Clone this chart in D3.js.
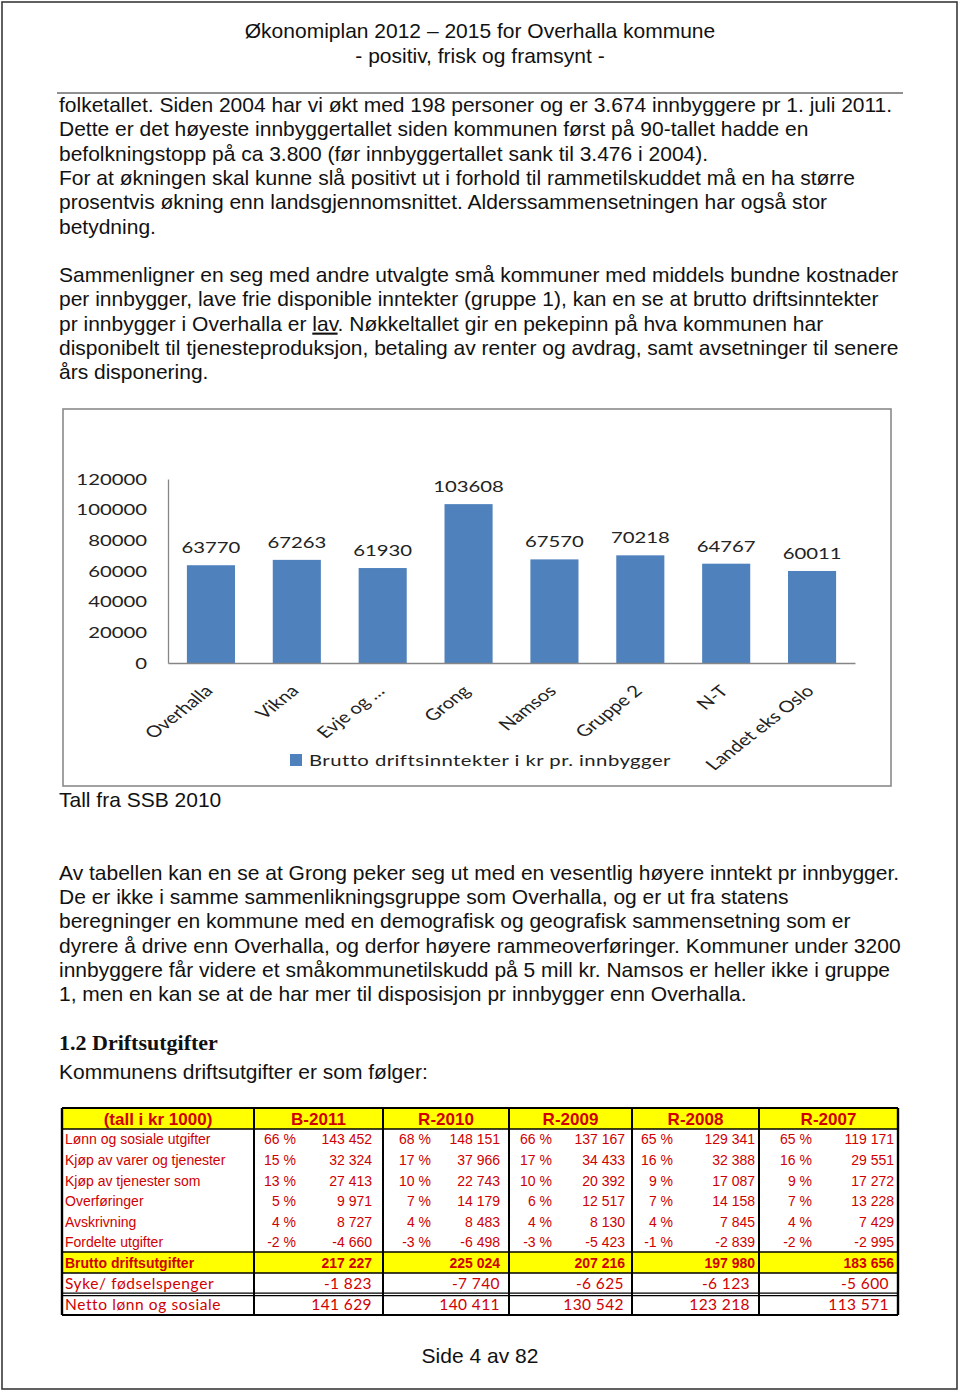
<!DOCTYPE html>
<html><head><meta charset="utf-8">
<script src="https://cdn.jsdelivr.net/npm/d3@7"></script>
<style>
html,body{margin:0;padding:0;background:#fff;}
svg{display:block;}
</style></head><body>
<svg id="page" width="960" height="1393"></svg>
<script>
// ---------- chart data ----------
const categories = ["Overhalla","Vikna","Evje og …","Grong","Namsos","Gruppe 2","N-T","Landet eks Oslo"];
const incomePerCapita = [63770,67263,61930,103608,67570,70218,64767,60011];
const yTicks = [0,20000,40000,60000,80000,100000,120000];
const seriesName = "Brutto driftsinntekter i kr pr. innbygger";

// ---------- table data ----------
const tableHeaders = ["(tall i kr 1000)","B-2011","R-2010","R-2009","R-2008","R-2007"];
const rowLabels = ["Lønn og sosiale utgifter","Kjøp av varer og tjenester","Kjøp av tjenester som","Overføringer","Avskrivning","Fordelte utgifter"];
const pctB2011 = [66,15,13,5,4,-2];
const valB2011 = [143452,32324,27413,9971,8727,-4660];
const pctR2010 = [68,17,10,7,4,-3];
const valR2010 = [148151,37966,22743,14179,8483,-6498];
const pctR2009 = [66,17,10,6,4,-3];
const valR2009 = [137167,34433,20392,12517,8130,-5423];
const pctR2008 = [65,16,9,7,4,-1];
const valR2008 = [129341,32388,17087,14158,7845,-2839];
const pctR2007 = [65,16,9,7,4,-2];
const valR2007 = [119171,29551,17272,13228,7429,-2995];
const bruttoLabel = "Brutto driftsutgifter";
const bruttoTotals = [217227,225024,207216,197980,183656];
const sykeLabel = "Syke/ fødselspenger";
const sykeValues = [-1823,-7740,-6625,-6123,-5600];
const nettoLabel = "Netto lønn og sosiale";
const nettoValues = [141629,140411,130542,123218,113571];

// ---------- page text ----------
const headerLines = ["Økonomiplan 2012 – 2015 for Overhalla kommune","- positiv, frisk og framsynt -"];
const para1 = [
 "folketallet. Siden 2004 har vi økt med 198 personer og er 3.674 innbyggere pr 1. juli 2011.",
 "Dette er det høyeste innbyggertallet siden kommunen først på 90-tallet hadde en",
 "befolkningstopp på ca 3.800 (før innbyggertallet sank til 3.476 i 2004).",
 "For at økningen skal kunne slå positivt ut i forhold til rammetilskuddet må en ha større",
 "prosentvis økning enn landsgjennomsnittet. Alderssammensetningen har også stor",
 "betydning."];
const para2 = [
 "Sammenligner en seg med andre utvalgte små kommuner med middels bundne kostnader",
 "per innbygger, lave frie disponible inntekter (gruppe 1), kan en se at brutto driftsinntekter",
 "pr innbygger i Overhalla er |lav|. Nøkkeltallet gir en pekepinn på hva kommunen har",
 "disponibelt til tjenesteproduksjon, betaling av renter og avdrag, samt avsetninger til senere",
 "års disponering."];
const caption = "Tall fra SSB 2010";
const para3 = [
 "Av tabellen kan en se at Grong peker seg ut med en vesentlig høyere inntekt pr innbygger.",
 "De er ikke i samme sammenlikningsgruppe som Overhalla, og er ut fra statens",
 "beregninger en kommune med en demografisk og geografisk sammensetning som er",
 "dyrere å drive enn Overhalla, og derfor høyere rammeoverføringer. Kommuner under 3200",
 "innbyggere får videre et småkommunetilskudd på 5 mill kr. Namsos er heller ikke i gruppe",
 "1, men en kan se at de har mer til disposisjon pr innbygger enn Overhalla."];
const sectionTitle = "1.2 Driftsutgifter";
const introLine = "Kommunens driftsutgifter er som følger:";
const footer = "Side 4 av 82";

// ---------- drawing ----------
const svg = d3.select("#page");
const bodyFont = "'Liberation Sans', Arial, Helvetica, sans-serif";
const chartFont = "Lato, 'Open Sans', sans-serif";

// page frame
svg.append("rect").attr("x",2).attr("y",2).attr("width",955).attr("height",1387)
  .attr("fill","none").attr("stroke","#3a3a3a").attr("stroke-width",1.6);

// header
headerLines.forEach((t,i)=>{
  svg.append("text").attr("x",480).attr("y",38+i*25).attr("text-anchor","middle")
    .attr("font-family",bodyFont).attr("font-size",21).attr("fill","#111").text(t);
});
svg.append("line").attr("x1",57).attr("x2",903).attr("y1",93).attr("y2",93)
  .attr("stroke","#222").attr("stroke-width",1.2);

function paragraph(lines, y0, step){
  lines.forEach((t,i)=>{
    const tx = svg.append("text").attr("x",59).attr("y",y0+i*step)
      .attr("font-family",bodyFont).attr("font-size",21).attr("fill","#111");
    const parts = t.split("|");
    parts.forEach((p,j)=>{
      const ts = tx.append("tspan").text(p);
      if (j%2===1) ts.attr("text-decoration","underline");
    });
  });
}
paragraph(para1,112,24.3);
paragraph(para2,282,24.3);
paragraph([caption],807,24.3);
paragraph(para3,880,24.2);
paragraph([introLine],1079,24.3);
svg.append("text").attr("x",59).attr("y",1050).attr("font-family","'Liberation Serif','DejaVu Serif',serif")
  .attr("font-weight","bold").attr("font-size",22).attr("fill","#111").text(sectionTitle);
svg.append("text").attr("x",480).attr("y",1363).attr("text-anchor","middle")
  .attr("font-family",bodyFont).attr("font-size",21).attr("fill","#111").text(footer);

// ---------- chart ----------
const SX = 1.27; // horizontal stretch of the pasted chart image
const chart = svg.append("g");
chart.append("rect").attr("x",63).attr("y",409).attr("width",828).attr("height",377)
  .attr("fill","#fff").attr("stroke","#8a8a8a").attr("stroke-width",1.6);

const x = d3.scaleBand().domain(categories).range([168,855]);
const y = d3.scaleLinear().domain([0,120000]).range([663,479]);
const barFrac = 0.56;
const data = categories.map((c,i)=>({c, v: incomePerCapita[i]}));

chart.selectAll("rect.bar").data(data).join("rect").attr("class","bar")
  .attr("x",d=>x(d.c)+x.bandwidth()*(1-barFrac)/2)
  .attr("width",x.bandwidth()*barFrac)
  .attr("y",d=>y(d.v)).attr("height",d=>y(0)-y(d.v))
  .attr("fill","#4f81bd");

// axes lines
const yAxis = d3.axisLeft(y).tickValues(yTicks).tickSize(0).tickFormat("");
chart.append("g").attr("transform","translate(168,0)").call(yAxis)
  .call(g=>g.select(".domain").attr("stroke","#868686").attr("stroke-width",1.3));
const xAxis = d3.axisBottom(x).tickSize(0).tickFormat("");
chart.append("g").attr("transform",`translate(0,${y(0)})`).call(xAxis)
  .call(g=>g.select(".domain").attr("stroke","#868686").attr("stroke-width",1.3));

// y tick labels
chart.selectAll("text.ytl").data(yTicks).join("text").attr("class","ytl")
  .attr("transform",d=>`translate(147,${y(d)}) scale(${SX},1)`)
  .attr("dy","0.36em").attr("text-anchor","end")
  .attr("font-family",chartFont).attr("font-size",16).attr("fill","#222")
  .text(d=>d3.format("d")(d));

// value labels
chart.selectAll("text.vl").data(data).join("text").attr("class","vl")
  .attr("transform",d=>`translate(${x(d.c)+x.bandwidth()/2},${y(d.v)-12}) scale(${SX},1)`)
  .attr("text-anchor","middle")
  .attr("font-family",chartFont).attr("font-size",16).attr("fill","#222")
  .text(d=>d.v);

// category labels (rotated)
chart.selectAll("text.xl").data(categories).join("text").attr("class","xl")
  .attr("transform",d=>`translate(${x(d)+x.bandwidth()/2+3},${y(0)+29}) scale(${SX},1) rotate(-45)`)
  .attr("text-anchor","end")
  .attr("font-family",chartFont).attr("font-size",16).attr("fill","#222")
  .text(d=>d);

// legend
chart.append("rect").attr("x",290).attr("y",754).attr("width",12).attr("height",12).attr("fill","#4f81bd");
chart.append("text").attr("transform",`translate(309,766) scale(${SX},1)`)
  .attr("font-family",chartFont).attr("font-size",16).attr("letter-spacing",0.35).attr("fill","#222").text(seriesName);

// ---------- table ----------
const red = "#d00000";
const colX = [62,254,383,509,632,759,898];
const pctRight = [296,431,552,673,812];
const valRight = [372,500,625,755,894];
const subRight = [372,500,624,750,889];
const yHeadTop = 1108, yHeadBot = 1129, rowStep = 20.6;
const yBrutto = 1252, ySyke = 1273, yNetto = 1294, yEnd = 1315;
const tbl = svg.append("g");
const nf = d3.formatLocale({decimal:",",thousands:" ",grouping:[3],currency:["",""],minus:"-"}).format(",d");

tbl.append("rect").attr("x",colX[0]).attr("y",yHeadTop).attr("width",colX[6]-colX[0]).attr("height",yHeadBot-yHeadTop).attr("fill","#ffff00");
tbl.append("rect").attr("x",colX[0]).attr("y",yBrutto).attr("width",colX[6]-colX[0]).attr("height",ySyke-yBrutto).attr("fill","#ffff00");

// header texts
tableHeaders.forEach((h,i)=>{
  tbl.append("text").attr("x",(colX[i]+colX[i+1])/2).attr("y",yHeadBot-4.5).attr("text-anchor","middle")
    .attr("font-family",bodyFont).attr("font-weight","bold").attr("font-size",17).attr("fill",red).text(h);
});

const pctCols = [pctB2011,pctR2010,pctR2009,pctR2008,pctR2007];
const valCols = [valB2011,valR2010,valR2009,valR2008,valR2007];
rowLabels.forEach((lab,r)=>{
  const yb = yHeadBot + rowStep*(r+0.5) + 5;
  tbl.append("text").attr("x",65).attr("y",yb).attr("font-family",bodyFont).attr("font-size",14).attr("fill",red).text(lab);
  pctCols.forEach((col,c)=>{
    tbl.append("text").attr("x",pctRight[c]).attr("y",yb).attr("text-anchor","end")
      .attr("font-family",bodyFont).attr("font-size",14).attr("fill",red).text(col[r]+" %");
    tbl.append("text").attr("x",valRight[c]).attr("y",yb).attr("text-anchor","end")
      .attr("font-family",bodyFont).attr("font-size",14).attr("fill",red).text(nf(valCols[c][r]));
  });
});
// brutto
{
  const yb = (yBrutto+ySyke)/2+5;
  tbl.append("text").attr("x",65).attr("y",yb).attr("font-family",bodyFont).attr("font-weight","bold").attr("font-size",14).attr("fill",red).text(bruttoLabel);
  bruttoTotals.forEach((v,c)=>{
    tbl.append("text").attr("x",valRight[c]).attr("y",yb).attr("text-anchor","end")
      .attr("font-family",bodyFont).attr("font-weight","bold").attr("font-size",14).attr("fill",red).text(nf(v));
  });
}
[[sykeLabel,sykeValues,ySyke,yNetto],[nettoLabel,nettoValues,yNetto,yEnd]].forEach(([lab,vals,t,b])=>{
  const yb = (t+b)/2+5.5;
  tbl.append("text").attr("x",65).attr("y",yb).attr("font-family",chartFont).attr("font-size",15.5)
    .attr("letter-spacing",0.6).attr("fill",red).text(lab);
  vals.forEach((v,c)=>{
    tbl.append("text").attr("x",subRight[c]).attr("y",yb).attr("text-anchor","end")
      .attr("font-family",chartFont).attr("font-size",15.5).attr("letter-spacing",0.4).attr("fill",red).text(nf(v));
  });
});

// grid lines
const ln = (x1,y1,x2,y2,w)=>tbl.append("line").attr("x1",x1).attr("y1",y1).attr("x2",x2).attr("y2",y2).attr("stroke","#000").attr("stroke-width",w);
colX.forEach((cx,i)=>ln(cx,yHeadTop,cx,yEnd,(i===0||i===6)?2.4:2));
[yHeadTop,yHeadBot,yBrutto,ySyke,yEnd].forEach(yy=>ln(colX[0],yy,colX[6],yy,yy===yHeadTop||yy===yEnd?2.2:1.5));
ln(colX[0],yNetto-0.8,colX[6],yNetto-0.8,1.3);
ln(colX[0],yNetto+1.6,colX[6],yNetto+1.6,1.3);
</script>
</body></html>
